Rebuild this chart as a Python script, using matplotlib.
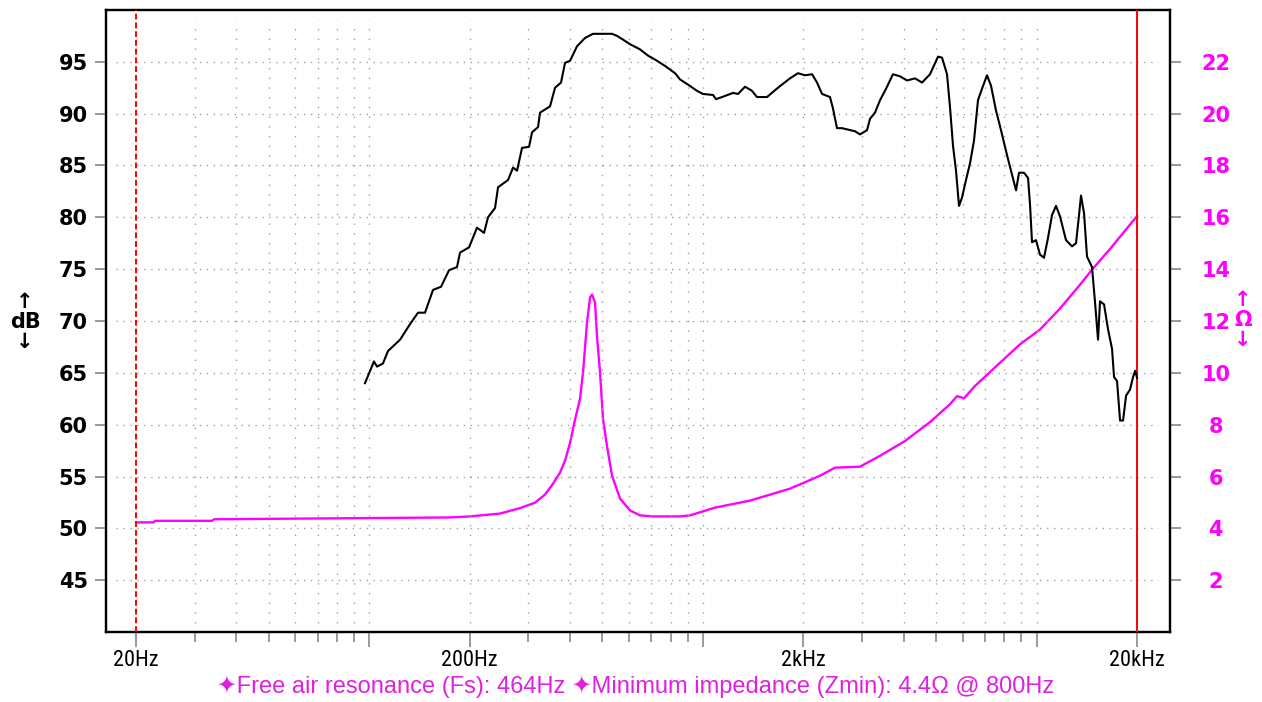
import matplotlib
matplotlib.use("Agg")
import matplotlib.pyplot as plt
from matplotlib import font_manager
from matplotlib.ticker import FixedLocator, FixedFormatter, NullFormatter

# SPL response (black), Hz / dB
spl_freq = [97.1, 103.3, 105.5, 109.9, 113.8, 123.7, 132.5, 140.0, 146.9, 155.3,
            164.1, 173.4, 183.2, 187.1, 199.1, 210.3, 220.8, 226.9, 238.2, 243.2,
            260.6, 269.7, 277.3, 287.0, 301.2, 307.5, 320.5, 324.9, 348.1, 360.4,
            375.6, 386.1, 399.7, 419.4, 443.2, 468.3, 491.5, 534.0, 552.7, 572.2,
            604.6, 647.7, 684.5, 728.4, 769.8, 824.8, 853.8, 902.2, 959.8, 1000,
            1072, 1094, 1141, 1231, 1274, 1337, 1403, 1452, 1556, 1678,
            1823, 1927, 2022, 2123, 2197, 2275, 2403, 2453, 2522, 2610,
            2856, 2956, 3102, 3167, 3278, 3394, 3537, 3711, 3895, 4088,
            4321, 4535, 4792, 5064, 5206, 5388, 5501, 5616, 5733, 5853,
            5975, 6142, 6314, 6491, 6672, 6859, 7100, 7299, 7555, 7821,
            8152, 8438, 8675, 8856, 9167, 9424, 9555, 9687, 9957, 10234,
            10521, 10815, 11117, 11428, 11749, 12246, 12764, 13122, 13397, 13583,
            13868, 14159, 14656, 14962, 15276, 15488, 15922, 16368, 16827, 17060,
            17418, 17783, 18156, 18537, 19055, 19454, 19730, 20000]
spl_db = [64.0, 66.1, 65.6, 65.9, 67.1, 68.2, 69.7, 70.8, 70.8, 73.0,
          73.3, 74.9, 75.2, 76.6, 77.1, 79.0, 78.5, 80.0, 80.9, 82.9,
          83.6, 84.8, 84.5, 86.7, 86.8, 88.2, 88.7, 90.1, 90.7, 92.5,
          93.0, 94.9, 95.1, 96.5, 97.3, 97.7, 97.7, 97.7, 97.5, 97.2,
          96.7, 96.2, 95.6, 95.1, 94.6, 93.9, 93.3, 92.8, 92.2, 91.9,
          91.8, 91.4, 91.6, 92.0, 91.9, 92.6, 92.2, 91.6, 91.6, 92.5,
          93.4, 93.9, 93.7, 93.8, 93.0, 91.9, 91.6, 90.5, 88.6, 88.6,
          88.3, 88.0, 88.4, 89.5, 90.1, 91.3, 92.4, 93.8, 93.6, 93.2,
          93.4, 93.0, 93.8, 95.5, 95.4, 93.8, 90.6, 86.9, 84.5, 81.1,
          81.9, 83.6, 85.2, 87.4, 91.3, 92.4, 93.7, 92.7, 90.3, 88.4,
          86.0, 84.1, 82.6, 84.3, 84.3, 83.8, 81.2, 77.6, 77.8, 76.4,
          76.1, 78.0, 80.2, 81.1, 80.1, 77.8, 77.2, 77.5, 80.2, 82.1,
          80.4, 76.2, 75.2, 71.8, 68.2, 71.9, 71.6, 69.2, 67.3, 64.6,
          64.2, 60.4, 60.4, 62.8, 63.4, 64.6, 65.2, 64.5]

# impedance (magenta), Hz / ohm
imp_freq = [20, 22.6, 22.8, 33.8, 34.3, 174.6, 200.4, 246.4, 282.9, 313.8,
            336.2, 355.3, 372.9, 386.1, 399.7, 413.8, 428.2, 437.2, 449.4, 458.8,
            465.2, 474.9, 481.5, 491.5, 501.8, 515.8, 534.0, 564.3, 604.6, 647.7,
            708.6, 853.8, 914.8, 1087, 1384, 1823, 2243, 2487, 2956, 3394,
            4032, 4792, 5501, 5772, 6058, 6535, 7503, 8915, 10234, 11749,
            13490, 14656, 16596, 20000]
imp_ohm = [4.23, 4.23, 4.29, 4.29, 4.35, 4.42, 4.46, 4.57, 4.78, 4.99,
           5.30, 5.72, 6.15, 6.61, 7.30, 8.20, 9.00, 10.02, 11.94, 12.90,
           13.02, 12.71, 11.40, 10.02, 8.22, 7.18, 6.03, 5.15, 4.69, 4.50,
           4.46, 4.46, 4.50, 4.80, 5.07, 5.53, 6.03, 6.34, 6.38, 6.80,
           7.37, 8.10, 8.79, 9.10, 9.02, 9.49, 10.21, 11.10, 11.67, 12.48,
           13.40, 13.98, 14.78, 16.05]

x_major = [20, 100, 200, 1000, 2000, 10000, 20000]
x_major_labels = ['20Hz', '', '200Hz', '', '2kHz', '', '20kHz']
x_minor = [30, 40, 50, 60, 70, 80, 90,
           300, 400, 500, 600, 700, 800, 900,
           3000, 4000, 5000, 6000, 7000, 8000, 9000]
x_grid = x_minor + [100, 200, 1000, 2000, 10000]
db_ticks = [45, 50, 55, 60, 65, 70, 75, 80, 85, 90, 95]
ohm_ticks = [2, 4, 6, 8, 10, 12, 14, 16, 18, 20, 22]

note = ('\u2726Free air resonance (Fs): 464Hz '
        '\u2726Minimum impedance (Zmin): 4.4\u03a9 @ 800Hz')

names = {f.name for f in font_manager.fontManager.ttflist}
narrow = 'DejaVu Sans'
for cand in ['Roboto Condensed', 'Liberation Sans Narrow', 'Open Sans Condensed', 'DejaVu Sans Condensed']:
    if cand in names:
        narrow = cand
        break

MAG = '#ff00ff'
MAG_TXT = '#e020e0'
GRID = '#a0a0a0'

fig = plt.figure(figsize=(12.62, 7.02), dpi=100)
ax = fig.add_axes([0.0840, 0.0997, 0.8431, 0.8861])
ax2 = ax.twinx()

ax.set_xscale('log')
ax.set_xlim(16.26, 25100)
ax.set_ylim(40, 100)
ax2.set_ylim(0, 24)

# dotted grid, inset a little from the frame
for yv in db_ticks:
    ax.axhline(yv, 0.009, 0.989, color=GRID, lw=1.0, ls=(0, (1, 4)), zorder=1)
for xv in x_grid:
    ax.axvline(xv, 0.015, 0.984, color=GRID, lw=1.0, ls=(0, (1, 6)), zorder=1)

ax.axvline(20, color='#ff0000', lw=1.4, ls=(0, (3, 1.5)), zorder=4)
ax.axvline(20000, color='#ff0000', lw=1.4, zorder=4)

ax2.plot(imp_freq, imp_ohm, color=MAG, lw=1.7, zorder=3)
ax.plot(spl_freq, spl_db, color='black', lw=1.5, zorder=5)

ax.set_zorder(ax2.get_zorder() + 1)
ax.patch.set_visible(False)

for a in (ax, ax2):
    for s in a.spines.values():
        s.set_linewidth(1.6)
        s.set_color('black')

ax.xaxis.set_major_locator(FixedLocator(x_major))
ax.xaxis.set_major_formatter(FixedFormatter(x_major_labels))
ax.xaxis.set_minor_locator(FixedLocator(x_minor))
ax.xaxis.set_minor_formatter(NullFormatter())
ax.tick_params(axis='x', which='major', direction='out', length=11, width=1.2,
               color='#888888', pad=2, labelsize=16)
ax.tick_params(axis='x', which='minor', direction='out', length=7, width=1.2,
               color='#888888')
for lab in ax.get_xticklabels():
    lab.set_fontfamily(narrow)

ax.set_yticks(db_ticks)
ax.tick_params(axis='y', direction='out', length=8, width=1.2, color='#888888',
               pad=5, labelsize=15)
for lab in ax.get_yticklabels():
    lab.set_fontweight('bold')

ax2.set_yticks(ohm_ticks)
ax2.tick_params(axis='y', direction='out', length=8, width=1.2, color='#888888',
                pad=25, labelsize=15, labelcolor=MAG)
for lab in ax2.get_yticklabels():
    lab.set_fontweight('bold')
    lab.set_horizontalalignment('center')

ax.set_ylabel('\u2191\ndB\n\u2193', rotation=0, fontsize=15, fontweight='bold',
              va='center', ha='center', linespacing=1.0)
ax.yaxis.set_label_coords(-0.0761, 0.498)
ax2.set_ylabel('\u2191\n\u03a9\n\u2193', rotation=0, fontsize=15, fontweight='bold',
               va='center', ha='center', linespacing=1.0, color=MAG)
ax2.yaxis.set_label_coords(1.0686, 0.5016)

fig.text(636 / 1262, 1 - 686 / 702, note, ha='center', va='center', fontsize=17,
         color=MAG_TXT, family=['Liberation Sans', 'DejaVu Sans'])

fig.savefig('out.png', dpi=100)
